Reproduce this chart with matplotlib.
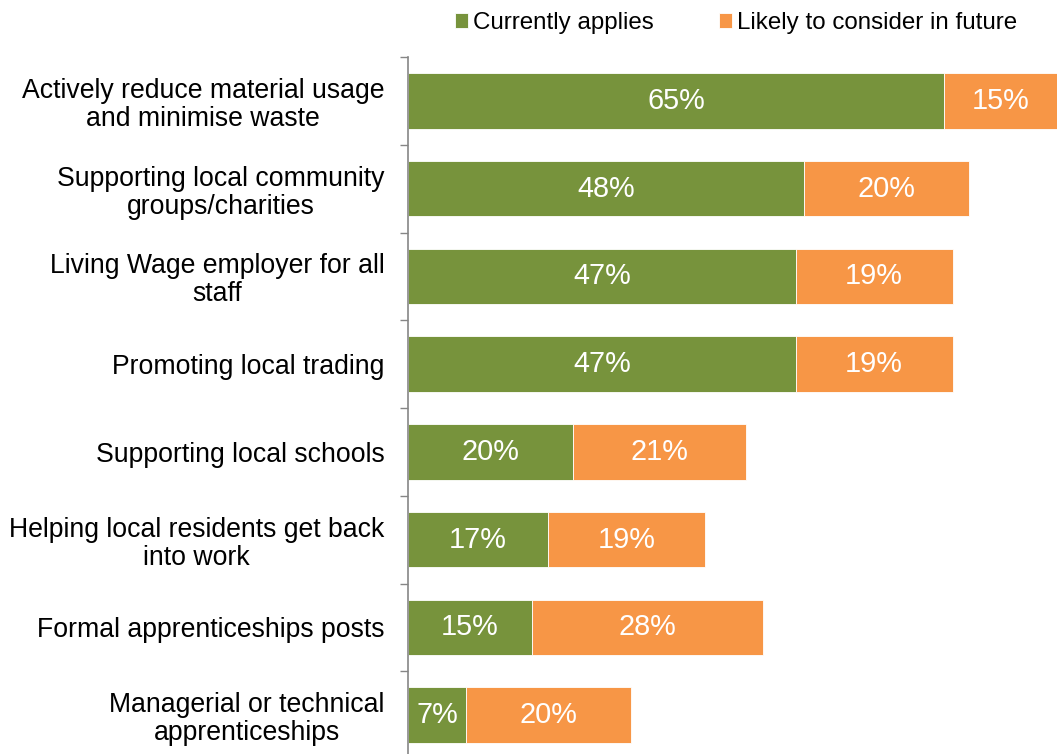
import matplotlib
matplotlib.use("Agg")
import matplotlib.pyplot as plt

plt.rcParams['font.family'] = ['Liberation Sans', 'DejaVu Sans']

categories = [
    "Actively reduce material usage\nand minimise waste",
    "Supporting local community\ngroups/charities",
    "Living Wage employer for all\nstaff",
    "Promoting local trading",
    "Supporting local schools",
    "Helping local residents get back\ninto work",
    "Formal apprenticeships posts",
    "Managerial or technical\napprenticeships",
]
currently_applies = [65, 48, 47, 47, 20, 17, 15, 7]
likely_future = [15, 20, 19, 19, 21, 19, 28, 20]

GREEN = "#77933C"
ORANGE = "#F79646"
AXIS_GREY = "#868686"

W, H = 1057, 754
fig = plt.figure(figsize=(W / 100, H / 100), dpi=100)
ax = fig.add_axes([408 / W, (H - 759) / H, (W - 408) / W, 702 / H])

n = len(categories)
ypos = list(range(n))
bar_h = 0.63

b1 = ax.barh(ypos, currently_applies, height=bar_h, color=GREEN,
             edgecolor="white", linewidth=0.6)
b2 = ax.barh(ypos, likely_future, left=currently_applies, height=bar_h,
             color=ORANGE, edgecolor="white", linewidth=0.6)

for bars, vals in ((b1, currently_applies), (b2, likely_future)):
    ax.bar_label(bars, labels=[f"{v}%" for v in vals], label_type="center",
                 color="white", fontsize=20.8)

ax.set_xlim(0, (W - 408) / 8.25)
ax.set_ylim(n - 0.5, -0.5)

# category boundaries carry the tick marks, centres carry the labels
ax.set_yticks([i - 0.5 for i in range(n + 1)])
ax.set_yticklabels([])
ax.tick_params(axis="y", which="major", length=6, width=1, color=AXIS_GREY,
               direction="out")
ax.set_yticks(ypos, minor=True)
ax.set_yticklabels(categories, minor=True, fontsize=19.2, ha="right",
                   multialignment="center", linespacing=1.1)
ax.tick_params(axis="y", which="minor", length=0, pad=17)

ax.xaxis.set_visible(False)
for side in ("top", "right", "bottom"):
    ax.spines[side].set_visible(False)
ax.spines["left"].set_color(AXIS_GREY)
ax.spines["left"].set_linewidth(1.2)

leg = fig.legend([b1, b2], ["Currently applies", "Likely to consider in future"],
                 loc="center", bbox_to_anchor=(736 / W, 1 - 23 / H), ncol=2,
                 frameon=False, fontsize=17.4, handlelength=0.55, handleheight=0.55,
                 handletextpad=0.2, columnspacing=2.7)

fig.savefig("out.png", dpi=100)
